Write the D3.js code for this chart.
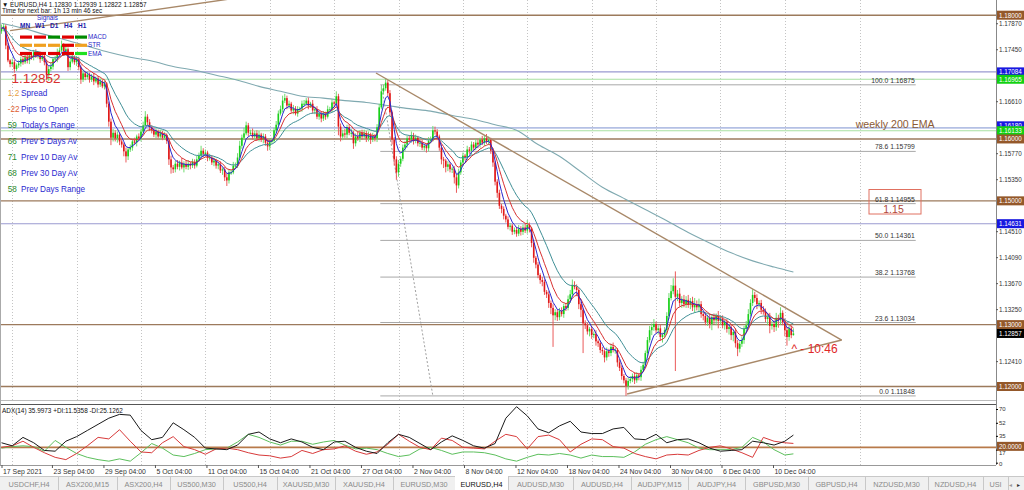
<!DOCTYPE html>
<html><head><meta charset="utf-8">
<script src="https://cdn.jsdelivr.net/npm/d3@7"></script>
<style>
html,body{margin:0;padding:0;background:#fff;overflow:hidden}
svg{display:block;font-family:"Liberation Sans",Arial,sans-serif}
</style></head><body>
<svg id="c" width="1024" height="490"></svg>
<script>
// ---------------- DATA ----------------
const firstOpen = 1.1774;
const closes = [
1.1779,1.1782,1.1751,1.1727,1.1721,1.1724,1.1713,1.1719,1.1722,1.1729,
1.1724,1.1732,1.1727,1.1735,1.1732,1.1740,1.1734,1.1737,1.1729,1.1734,
1.1724,1.1703,1.1713,1.1717,1.1729,1.1730,1.1740,1.1743,1.1751,1.1742,
1.1745,1.1716,1.1725,1.1732,1.1724,1.1729,1.1716,1.1696,1.1706,1.1700,
1.1704,1.1696,1.1701,1.1693,1.1698,1.1688,1.1693,1.1685,1.1690,1.1657,
1.1628,1.1602,1.1610,1.1601,1.1607,1.1596,1.1591,1.1580,1.1572,1.1583,
1.1586,1.1596,1.1594,1.1604,1.1601,1.1612,1.1622,1.1636,1.1627,1.1619,
1.1614,1.1607,1.1612,1.1604,1.1609,1.1602,1.1606,1.1597,1.1567,1.1554,
1.1551,1.1560,1.1555,1.1562,1.1554,1.1560,1.1555,1.1560,1.1557,1.1563,
1.1557,1.1567,1.1573,1.1581,1.1576,1.1578,1.1570,1.1570,1.1562,1.1565,
1.1557,1.1559,1.1549,1.1551,1.1538,1.1533,1.1546,1.1546,1.1557,1.1557,
1.1570,1.1589,1.1602,1.1609,1.1622,1.1610,1.1610,1.1604,1.1609,1.1601,
1.1607,1.1599,1.1604,1.1594,1.1588,1.1596,1.1597,1.1614,1.1623,1.1641,
1.1648,1.1662,1.1666,1.1654,1.1657,1.1646,1.1649,1.1641,1.1648,1.1649,
1.1657,1.1657,1.1662,1.1654,1.1657,1.1646,1.1648,1.1636,1.1641,1.1633,
1.1640,1.1636,1.1648,1.1648,1.1659,1.1657,1.1669,1.1620,1.1604,1.1609,
1.1607,1.1619,1.1610,1.1610,1.1593,1.1604,1.1601,1.1610,1.1604,1.1609,
1.1601,1.1607,1.1599,1.1604,1.1601,1.1619,1.1651,1.1677,1.1682,1.1691,
1.1674,1.1643,1.1599,1.1567,1.1546,1.1560,1.1568,1.1586,1.1591,1.1601,
1.1599,1.1606,1.1597,1.1602,1.1593,1.1594,1.1586,1.1589,1.1585,1.1597,
1.1599,1.1614,1.1612,1.1604,1.1586,1.1567,1.1565,1.1555,1.1559,1.1551,
1.1552,1.1538,1.1525,1.1546,1.1562,1.1573,1.1570,1.1583,1.1581,1.1591,
1.1586,1.1594,1.1591,1.1599,1.1594,1.1601,1.1596,1.1599,1.1581,1.1562,
1.1531,1.1513,1.1492,1.1487,1.1476,1.1470,1.1458,1.1460,1.1450,1.1453,
1.1447,1.1455,1.1450,1.1457,1.1452,1.1461,1.1455,1.1432,1.1408,1.1397,
1.1380,1.1372,1.1369,1.1353,1.1349,1.1335,1.1327,1.1315,1.1320,1.1312,
1.1322,1.1317,1.1330,1.1327,1.1341,1.1349,1.1364,1.1361,1.1356,1.1333,
1.1324,1.1302,1.1299,1.1289,1.1293,1.1283,1.1285,1.1273,1.1270,1.1259,
1.1257,1.1247,1.1257,1.1254,1.1264,1.1259,1.1259,1.1239,1.1230,1.1217,
1.1210,1.1201,1.1209,1.1212,1.1217,1.1210,1.1218,1.1215,1.1227,1.1235,
1.1254,1.1275,1.1291,1.1296,1.1301,1.1291,1.1294,1.1280,1.1283,1.1291,
1.1314,1.1343,1.1354,1.1363,1.1345,1.1350,1.1335,1.1341,1.1333,1.1340,
1.1332,1.1338,1.1328,1.1333,1.1328,1.1333,1.1317,1.1314,1.1304,1.1311,
1.1301,1.1312,1.1307,1.1314,1.1306,1.1309,1.1299,1.1304,1.1293,1.1296,
1.1283,1.1288,1.1270,1.1261,1.1269,1.1275,1.1293,1.1299,1.1317,1.1335,
1.1348,1.1343,1.1333,1.1335,1.1324,1.1322,1.1309,1.1312,1.1298,1.1301,
1.1296,1.1311,1.1307,1.1319,1.1304,1.1291,1.1280,1.1294,1.1283,1.12857];
// upper / lower wick lengths in pips
const wickUp = [
6,4,3,5,2,6,4,3,5,4, 3,5,4,6,3,4,5,3,4,6, 3,4,5,7,3,4,6,5,8,4, 5,3,4,6,3,5,4,3,6,4,
5,3,4,6,3,4,5,3,4,2, 3,5,6,4,5,3,4,3,6,4, 5,4,6,3,5,4,6,9,4,5, 3,4,5,3,6,4,5,3,4,6,
4,5,6,3,7,4,5,6,3,5, 4,6,5,8,4,5,3,6,4,5, 3,4,5,3,4,6,5,4,6,5, 7,8,5,9,6,4,5,7,4,5,
6,3,5,4,6,3,5,4,6,5, 6,8,7,4,5,3,6,4,5,3, 5,6,4,5,3,6,4,5,3,4, 5,4,6,4,5,3,8,4,5,6,
7,4,5,6,3,5,8,4,5,6, 4,5,3,6,4,5,6,8,6,7, 4,5,3,4,5,6,4,5,6,4, 5,6,4,5,3,4,5,3,4,6,
5,7,6,4,3,5,4,3,5,4, 3,4,5,6,4,5,3,6,4,5, 4,6,5,3,6,5,7,5,3,4, 3,4,5,3,4,3,5,4,3,4,
5,6,4,5,6,8,4,3,4,3, 4,3,5,4,3,5,4,6,5,4, 5,6,4,5,6,7,9,6,4,3, 4,3,5,4,3,5,4,6,3,4,
5,3,6,4,5,7,4,3,5,4, 3,4,6,5,4,6,5,4,6,5, 4,5,7,6,8,4,5,6,4,5, 6,8,10,12,23,6,9,5,7,6,
8,5,7,10,6,9,5,4,6,5, 7,5,6,4,8,5,6,4,5,4, 5,4,6,5,4,6,5,7,8,6, 9,5,6,4,5,6,4,5,7,5,
6,8,5,9,4,6,5,7,5,8.2];
const wickDown = [
4,5,6,3,5,4,6,3,4,5, 4,3,5,6,4,5,3,4,6,3, 5,8,9,4,5,3,6,4,3,5, 4,6,5,3,4,6,5,7,4,5,
3,5,4,6,3,5,4,3,5,6, 8,12,6,5,7,6,5,8,10,6, 4,5,3,6,4,5,3,4,5,6, 5,4,6,3,5,4,3,5,9,10,
6,5,4,6,3,8,4,5,6,4, 5,3,4,6,5,4,6,5,4,6, 5,6,4,7,6,9,5,4,3,5, 4,3,5,4,3,6,4,5,6,4,
5,4,6,5,7,6,4,3,5,4, 3,5,4,6,5,4,6,3,5,4, 5,4,3,6,4,5,6,4,5,6, 4,5,3,4,5,6,4,14,8,6,
5,6,4,7,9,5,4,6,5,4, 6,5,7,4,5,6,4,3,5,4, 5,6,8,10,12,7,5,4,6,5, 4,5,6,4,5,6,4,5,7,5,
4,3,5,6,5,8,12,9,7,5, 6,10,12,5,4,6,5,4,5,6, 5,4,6,5,4,5,4,6,5,7, 6,8,5,7,6,5,4,6,5,4,
5,4,6,5,4,5,6,7,8,6, 5,6,7,5,6,8,10,51,8,6, 5,4,6,5,4,6,5,4,10,8, 12,48,6,5,8,6,5,7,6,5,
6,8,5,6,5,4,6,7,5,6, 5,16.2,6,4,5,6,4,5,6,4, 5,6,4,8,6,5,7,6,9,5, 6,5,4,5,120,7,6,8,5,6,
5,7,6,9,5,8,6,7,5,6, 7,10,6,8,12,6,5,7,6,9, 8,10,7,12,6,5,6,7,5,4, 5,6,8,5,7,6,5,10,12,6,
8,6,12,7,5,10,14,6,5,0.8];
// slow (200) moving average, one value every 10 bars (last = bar 369)
const ma200 = [1.1787,1.1779,1.1769,1.1760,1.1750,1.1740,1.1732,1.1726,1.1717,1.1711,
1.1703,1.1695,1.1685,1.1677,1.1669,1.1666,1.1662,1.1659,1.1654,1.1649,
1.1645,1.1638,1.1632,1.1623,1.1614,1.1591,1.1572,1.1547,1.1522,1.1504,
1.1486,1.1468,1.1449,1.1432,1.1416,1.1403,1.1393,1.1385];
// ADX(14) sampled every 5 bars (last = bar 369)
const adxMain = [26,22,33,26,16,15,28,34,42,50,58,63,62,42,30,33,52,43,33,19,18,17,23,37,40,31,26,31,27,20,17,27,28,20,15,12,26,37,33,25,17,27,35,29,22,19,25,58,73,61,44,39,48,54,40,38,38,44,46,31,30,37,26,30,31,26,19,15,16,17,28,26,23,28,36.00];
const minusDI = [20,22,28,20,13,7,4,12,22,33,31,43,28,14,13,26,34,21,17,11,18,19,17,13,10,9,6,8,16,12,17,18,22,15,11,14,24,37,28,20,17,32,29,20,19,18,28,37,34,18,34,36,30,14,24,31,30,21,19,12,8,5,10,11,10,16,20,22,18,13,7,33,28,26,25.13];
const plusDI = [19,21,22,21,15,29,20,12,7,4,2,5,2,13,25,19,10,8,12,17,18,19,27,37,33,27,23,28,28,24,27,29,23,18,19,17,12,8,10,18,20,16,11,14,14,13,10,5,2,7,11,10,12,10,6,10,8,8,7,14,24,30,34,30,26,19,17,17,17,20,33,27,17,10,11.54];
const priceTicks = [1.17870,1.17450,1.16610,1.15770,1.15350,1.14510,1.14090,1.13670,1.13250,1.12410];
const adxTicks = [70,52,35,17,0];
const dateLabels = ["17 Sep 2021","23 Sep 04:00","29 Sep 04:00","5 Oct 04:00","11 Oct 04:00","15 Oct 04:00","21 Oct 04:00","27 Oct 04:00","2 Nov 04:00","8 Nov 04:00","12 Nov 04:00","18 Nov 04:00","24 Nov 04:00","30 Nov 04:00","6 Dec 04:00","10 Dec 04:00"];
const dateBars = [0,23.5,47.5,71.5,95.5,119.5,143.5,167.5,191.5,215.5,239.5,263.5,287.5,311.5,335.5,359.5];
const gridBars = [5,35,65,95,125,155,185,215,245,275,305,335,365,400];
const levelPrices = [1.18000,1.17084,1.16965,1.16180,1.16133,1.16000,1.15000,1.14631,1.13000,1.12000];
const levelKinds  = ["round","blue","green","blue","green","round","round","blue","round","round"];
const fibPercents = [0.0,23.6,38.2,50.0,61.8,78.6,100.0];
const fibPrices   = [1.11848,1.13034,1.13768,1.14361,1.14955,1.15799,1.16875];
const fibFromBar = 176.5, fibToBar = 426, fibDiag = [[177,1.16875],[201,1.11848]];
const trendLines = [[[4,1.1775],[130,1.1838]],[[174.5,1.17066],[391.5,1.12751]],[[291.5,1.11879],[391.5,1.12751]]];
const currentPrice = 1.12857;
const infoNumbers = ["1.2","-22","59","66","71","68","58"];
const infoLabels = ["Spread","Pips to Open","Today's Range","Prev 5 Days Av","Prev 10 Day Av","Prev 30 Day Av","Prev Days Range"];
const signalFrames = ["MN","W1","D1","H4","H1"];
const signalRows = ["MACD","STR","EMA"];
const signalStates = [["dn","dn","up","dn","up"],["nt","nt","nt","dn","nt"],["dn","dn","dn","dn","upb"]];
const tabNames = ["USDCHF,H4","ASX200,M15","ASX200,H4","US500,M30","US500,H4","XAUUSD,M30","XAUUSD,H4","EURUSD,M30","EURUSD,H4","AUDUSD,M30","AUDUSD,H4","AUDJPY,M15","AUDJPY,H4","GBPUSD,M30","GBPUSD,H4","NZDUSD,M30","NZDUSD,H4","USI"];
const tabEdges = [0,58,117,170,223,277,335,393,455,508,573,631,688,745,808,865,928,983,1008];
const activeTab = "EURUSD,H4";

// ---------------- SCALES ----------------
const svg = d3.select("#c");
const x = d3.scaleLinear().domain([0, 369]).range([1.5, 793.4]);
const y = d3.scaleLinear().domain([1.12, 1.18]).range([386.5, 15.2]);
const ya = d3.scaleLinear().domain([0, 70]).range([462.7, 409]);
const mainH = 400, adxTop = 404, adxBot = 465, axisX = 996;

const defs = svg.append("defs");
defs.append("clipPath").attr("id","cm").append("rect").attr("x",0).attr("y",0).attr("width",axisX).attr("height",mainH);
defs.append("clipPath").attr("id","ca").append("rect").attr("x",0).attr("y",adxTop+1).attr("width",axisX).attr("height",adxBot-adxTop-1);

svg.append("rect").attr("width",1024).attr("height",490).attr("fill","#fff");

// vertical grid
const grid = svg.append("g");
gridBars.forEach(b=>{
  const gx = Math.round(x(b))+0.5;
  grid.append("line").attr("x1",gx).attr("x2",gx).attr("y1",0).attr("y2",mainH).attr("stroke","#c4c4c4").attr("stroke-dasharray","1,2");
  grid.append("line").attr("x1",gx).attr("x2",gx).attr("y1",adxTop).attr("y2",adxBot).attr("stroke","#c4c4c4").attr("stroke-dasharray","1,2");
});

const main = svg.append("g").attr("clip-path","url(#cm)");
// horizontal levels
const levelColor = {round:"#9c7a5c", blue:"#9a9ad0", green:"#a8e0a0"};
levelPrices.forEach((p,i)=>{
  const k = levelKinds[i];
  const yy = y(p);
  main.append("line").attr("x1",0).attr("x2",axisX).attr("y1",yy).attr("y2",yy)
    .attr("stroke", (p===1.16180)?"#b4c0e4":levelColor[k]).attr("stroke-width",(p===1.16180)?1.8:(k==="round"?1.4:1.1));
});
// fib
fibPrices.forEach((p,i)=>{
  const yy = y(p);
  main.append("line").attr("x1",x(fibFromBar)).attr("x2",x(fibToBar)).attr("y1",yy).attr("y2",yy).attr("stroke","#a8a8a8").attr("stroke-width",1);
  main.append("text").attr("x",x(fibToBar)-1).attr("y",yy-2).attr("text-anchor","end").attr("font-size",6.8).attr("fill","#333")
    .text(fibPercents[i].toFixed(1)+"  "+p.toFixed(5));
});
main.append("line").attr("x1",x(fibDiag[0][0])).attr("y1",y(fibDiag[0][1])).attr("x2",x(fibDiag[1][0])).attr("y2",y(fibDiag[1][1]))
  .attr("stroke","#a0a0a0").attr("stroke-dasharray","2,2");

// slow MA
const ma200Bars = ma200.map((v,i)=> i===ma200.length-1 ? 369 : i*10);
main.append("path").datum(ma200.map((v,i)=>[ma200Bars[i],v]))
  .attr("d", d3.line().x(d=>x(d[0])).y(d=>y(d[1])).curve(d3.curveMonotoneX))
  .attr("fill","none").attr("stroke","#7fa9b0").attr("stroke-width",1.1);

// candles
const bars = closes.map((c,i)=>{
  const o = i===0 ? firstOpen : closes[i-1];
  const hi = Math.max(o,c) + wickUp[i]/10000;
  const lo = Math.min(o,c) - wickDown[i]/10000;
  return {i,o,c,hi,lo,up:c>=o};
});
const cg = main.append("g");
cg.selectAll("line").data(bars).join("line")
  .attr("x1",d=>x(d.i)).attr("x2",d=>x(d.i)).attr("y1",d=>y(d.hi)).attr("y2",d=>y(d.lo))
  .attr("stroke",d=>d.up?"#6edc6e":"#ea5a5a").attr("stroke-width",1);
cg.selectAll("rect").data(bars).join("rect")
  .attr("x",d=>x(d.i)-0.8).attr("width",1.6)
  .attr("y",d=>Math.min(y(d.o),y(d.c))).attr("height",d=>Math.max(1,Math.abs(y(d.o)-y(d.c))))
  .attr("fill",d=>d.up?"#18d018":"#e01818");

// EMAs derived from closes
function ema(arr,n){const k=2/(n+1);let e=arr[0];return arr.map(v=>(e=v*k+e*(1-k)));}
[[21,"#3f8f96"],[10,"#d83030"],[5,"#2828d0"]].forEach(([n,col])=>{
  const e = ema(closes,n);
  main.append("path").datum(e).attr("d",d3.line().x((d,i)=>x(i)).y(d=>y(d)))
    .attr("fill","none").attr("stroke",col).attr("stroke-width",1);
});

// trend lines
trendLines.forEach(t=>{
  main.append("line").attr("x1",x(t[0][0])).attr("y1",y(t[0][1])).attr("x2",x(t[1][0])).attr("y2",y(t[1][1]))
    .attr("stroke","#a88868").attr("stroke-width",1.4);
});

// annotations
main.append("text").attr("x",855.7).attr("y",128).attr("font-size",10.6).attr("fill","#8b5a35").text("weekly 200 EMA");
main.append("rect").attr("x",869).attr("y",189.5).attr("width",52).attr("height",24.5).attr("fill","none").attr("stroke","#e07060").attr("stroke-width",1);
main.append("text").attr("x",893.5).attr("y",213).attr("text-anchor","middle").attr("font-size",10.5).attr("fill","#b04838").text("1.15");
main.append("text").attr("x",x(369)-2).attr("y",353).attr("font-size",12).attr("fill","#e02828").text("^ - 10:46");

// top-left info block
const info = svg.append("g");
info.append("text").attr("x",2).attr("y",7).attr("font-size",6.4).attr("fill","#111").text("▼ EURUSD,H4  1.12830 1.12939 1.12822 1.12857");
info.append("text").attr("x",2).attr("y",12.5).attr("font-size",6.4).attr("fill","#111").text("Time for next bar: 1h 13 min 46 sec");
info.append("text").attr("x",37).attr("y",19.5).attr("font-size",6.4).attr("fill","#2828c8").text("Signals");
signalFrames.forEach((f,j)=>{
  info.append("text").attr("x",[20,35,50,64,78][j]).attr("y",28).attr("font-size",6.5).attr("font-weight","bold").attr("fill","#2020a8").text(f);
});
const sigCol = {dn:"#e00000", up:"#008a00", nt:"#f0a020", upb:"#20e020"};
const dashX = [20,34,48,62,75];
signalRows.forEach((r,k)=>{
  const yy = 35.5 + k*8.2;
  signalStates[k].forEach((s,j)=>{
    info.append("rect").attr("x",dashX[j]).attr("y",yy).attr("width",12).attr("height",3.2).attr("fill",sigCol[s]);
  });
  info.append("text").attr("x",88).attr("y",yy+3.6).attr("font-size",6.3).attr("fill","#2828c8").text(r);
});
info.append("text").attr("x",11.5).attr("y",83).attr("font-size",13.6).attr("fill","#d83030").text("1.12852");
const numCol = ["#e8a040","#e06030","#2a8a2a","#2a8a2a","#2a8a2a","#2a8a2a","#2a8a2a"];
infoLabels.forEach((t,k)=>{
  const yy = 96 + k*16;
  info.append("text").attr("x",7.8).attr("y",yy).attr("font-size",8.2).attr("fill",numCol[k]).text(infoNumbers[k]);
  info.append("text").attr("x",21).attr("y",yy).attr("font-size",8.2).attr("fill","#2a2ad0").text(t);
});

// ADX pane
const ap = svg.append("g").attr("clip-path","url(#ca)");
ap.append("line").attr("x1",0).attr("x2",axisX).attr("y1",ya(20)).attr("y2",ya(20)).attr("stroke","#b87a4a").attr("stroke-width",1.6);
const adxBarsIdx = adxMain.map((v,i)=> i===adxMain.length-1 ? 369 : i*5);
[[plusDI,"#5cbf5c"],[minusDI,"#d83a3a"],[adxMain,"#1a1a1a"]].forEach(([arr,col])=>{
  ap.append("path").datum(arr).attr("d",d3.line().x((d,i)=>x(adxBarsIdx[i])).y(d=>ya(d)))
    .attr("fill","none").attr("stroke",col).attr("stroke-width",1);
});
svg.append("text").attr("x",2).attr("y",412.5).attr("font-size",6.4).attr("fill","#111").text("ADX(14) 35.9973 +DI:11.5358 -DI:25.1262");

// frames
svg.append("line").attr("x1",0).attr("x2",axisX).attr("y1",adxTop+0.5).attr("y2",adxTop+0.5).attr("stroke","#555");
svg.append("line").attr("x1",0).attr("x2",axisX).attr("y1",mainH+0.5).attr("y2",mainH+0.5).attr("stroke","#bbb");
svg.append("line").attr("x1",0).attr("x2",axisX).attr("y1",adxBot+0.5).attr("y2",adxBot+0.5).attr("stroke","#999");
svg.append("line").attr("x1",axisX+0.5).attr("x2",axisX+0.5).attr("y1",0).attr("y2",adxBot).attr("stroke","#888");
svg.append("line").attr("x1",0.5).attr("x2",0.5).attr("y1",0).attr("y2",adxBot).attr("stroke","#aaa");

// price axis
const pa = svg.append("g").attr("transform",`translate(${axisX},0)`)
  .call(d3.axisRight(y).tickValues(priceTicks).tickFormat(d3.format(".5f")).tickSize(2));
pa.select(".domain").remove();
pa.selectAll("text").attr("font-size",6.3).attr("fill","#333").attr("x",3).attr("font-family","Liberation Sans, Arial");
pa.selectAll("line").attr("stroke","#555");
const boxCol = {round:"#94582a", blue:"#1818e0", green:"#12d012"};
function priceBox(col, label, yy){
  const g = svg.append("g");
  g.append("rect").attr("x",axisX+1).attr("y",yy-4.5).attr("width",27).attr("height",9).attr("fill",col);
  g.append("text").attr("x",axisX+3).attr("y",yy+2.3).attr("font-size",6.3).attr("fill","#fff").text(label);
}
// draw the 1.16180 box first (partly hidden, as in the terminal)
const order = levelPrices.map((p,i)=>i).sort((a,b)=> (levelPrices[a]===1.16180?-1:0)-(levelPrices[b]===1.16180?-1:0));
order.forEach(i=>{
  const p = levelPrices[i];
  const yy = p===1.16180 ? y(p)-2 : y(p);
  priceBox(boxCol[levelKinds[i]], p.toFixed(5), yy);
});
priceBox("#000", currentPrice.toFixed(5), y(currentPrice));

// ADX axis
const aa = svg.append("g").attr("transform",`translate(${axisX},0)`)
  .call(d3.axisRight(ya).tickValues(adxTicks).tickFormat(d3.format("d")).tickSize(2));
aa.select(".domain").remove();
aa.selectAll("text").attr("font-size",6).attr("fill","#333").attr("x",3).attr("font-family","Liberation Sans, Arial");
aa.selectAll(".tick").filter(d=>d===17).select("text").attr("dy","0.75em");
aa.selectAll(".tick").filter(d=>d===0).select("text").attr("dy","0.45em");
priceBox("#94582a", "20.0000", ya(20)-1);

// date axis
const da = svg.append("g").attr("transform",`translate(0,${adxBot})`)
  .call(d3.axisBottom(x).tickValues(dateBars).tickFormat((d,i)=>dateLabels[i]).tickSize(3));
da.select(".domain").remove();
da.selectAll("line").attr("stroke","#555");
da.selectAll("text").attr("font-size",6.9).attr("fill","#333").attr("text-anchor","start").attr("x",1).attr("y",4).attr("font-family","Liberation Sans, Arial");

// tabs
const tg = svg.append("g");
tg.append("rect").attr("x",0).attr("y",476).attr("width",1024).attr("height",14).attr("fill","#f0f0f0");
tg.append("line").attr("x1",0).attr("x2",1024).attr("y1",476.5).attr("y2",476.5).attr("stroke","#c8c8c8");
tabNames.forEach((t,i)=>{
  const x0 = tabEdges[i], x1 = tabEdges[i+1];
  const act = t===activeTab;
  if(act) tg.append("rect").attr("x",x0).attr("y",476).attr("width",x1-x0).attr("height",14).attr("fill","#fff");
  tg.append("line").attr("x1",x1+0.5).attr("x2",x1+0.5).attr("y1",477).attr("y2",490).attr("stroke","#c8c8c8");
  tg.append("text").attr("x",(x0+x1)/2).attr("y",486.5).attr("text-anchor","middle").attr("font-size",7.3)
    .attr("fill",act?"#111":"#8a8a8a").text(t);
});
tg.append("text").attr("x",1009).attr("y",486.5).attr("font-size",6).attr("fill","#999").text("◂");
tg.append("text").attr("x",1017).attr("y",486.5).attr("font-size",6).attr("fill","#333").text("▸");
</script></body></html>
